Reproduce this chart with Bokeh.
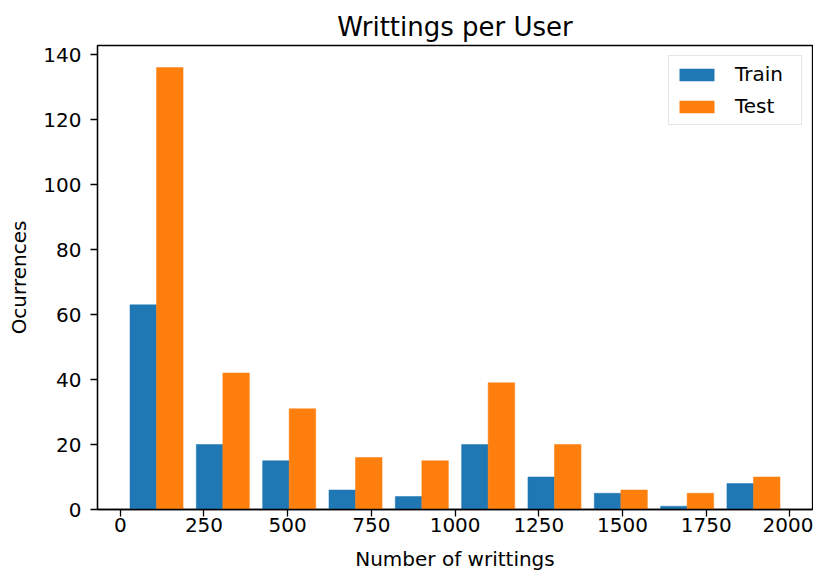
import numpy as np
from bokeh.plotting import figure
from bokeh.models import Range1d, FixedTicker, Legend, LegendItem, ColumnDataSource
from bokeh.embed import file_html
from bokeh.resources import INLINE

# --- data ---
bin_lo = 9.3
bin_hi = 1990.0
n_bins = 10
train_counts = [63, 20, 15, 6, 4, 20, 10, 5, 1, 8]
test_counts = [136, 42, 31, 16, 15, 39, 20, 6, 5, 10]
series_names = ["Train", "Test"]
series_colors = ["#1f77b4", "#ff7f0e"]
x_ticks = [0, 250, 500, 750, 1000, 1250, 1500, 1750, 2000]
y_ticks = [0, 20, 40, 60, 80, 100, 120, 140]

FONT = "DejaVu Sans"

w = (bin_hi - bin_lo) / n_bins
edges = np.array([bin_lo + i * w for i in range(n_bins)])

# matplotlib-style grouped histogram bars (80% of bin, split in two)
train_src = ColumnDataSource(dict(left=edges + 0.1 * w, right=edges + 0.5 * w,
                                  top=train_counts, bottom=[0] * n_bins))
test_src = ColumnDataSource(dict(left=edges + 0.5 * w, right=edges + 0.9 * w,
                                 top=test_counts, bottom=[0] * n_bins))

xmin = edges[0] + 0.1 * w
xmax = edges[-1] + 0.9 * w
xm = 0.05 * (xmax - xmin)
ymax = max(max(train_counts), max(test_counts)) * 1.05

p = figure(width=813, height=573, output_backend="svg", toolbar_location=None,
           x_range=Range1d(xmin - xm, xmax + xm), y_range=Range1d(0, ymax),
           min_border_left=97, min_border_right=1, min_border_top=45, min_border_bottom=64,
           title="Writtings per User")

r1 = p.quad(left="left", right="right", top="top", bottom="bottom", source=train_src,
            fill_color=series_colors[0], line_color=series_colors[0], line_width=0.5)
r2 = p.quad(left="left", right="right", top="top", bottom="bottom", source=test_src,
            fill_color=series_colors[1], line_color=series_colors[1], line_width=0.5)

p.title.text_font = FONT
p.title.text_font_size = "26px"
p.title.text_font_style = "normal"
p.title.align = "center"
p.title.text_color = "black"
p.title.standoff = 7

p.grid.visible = False
p.outline_line_color = "black"
p.outline_line_width = 1.3
p.background_fill_color = "white"
p.border_fill_color = "white"

for ax in (p.xaxis[0], p.yaxis[0]):
    ax.major_label_text_font = FONT
    ax.major_label_text_font_size = "20px"
    ax.major_label_text_color = "black"
    ax.axis_label_text_font = FONT
    ax.axis_label_text_font_size = "20px"
    ax.axis_label_text_font_style = "normal"
    ax.axis_label_text_color = "black"
    ax.major_tick_in = 0
    ax.major_tick_out = 7
    ax.minor_tick_in = 0
    ax.minor_tick_out = 0
    ax.axis_line_color = "black"
    ax.axis_line_width = 1.3
    ax.major_tick_line_width = 1.3

p.xaxis.ticker = FixedTicker(ticks=x_ticks)
p.yaxis.ticker = FixedTicker(ticks=y_ticks)
p.xaxis.axis_label = "Number of writtings"
p.yaxis.axis_label = "Ocurrences"
p.xaxis.major_label_standoff = 1
p.xaxis.axis_label_standoff = 12
p.yaxis.major_label_standoff = 9
p.yaxis.axis_label_standoff = 9

legend = Legend(items=[LegendItem(label=series_names[0], renderers=[r1]),
                       LegendItem(label=series_names[1], renderers=[r2])],
                location="top_right")
legend.label_text_font = FONT
legend.label_text_font_size = "20px"
legend.label_text_color = "black"
legend.glyph_width = 43
legend.glyph_height = 15
legend.label_height = 20
legend.label_width = 60
legend.label_standoff = 17
legend.spacing = 8
legend.padding = 6
legend.margin = 10
legend.border_line_color = "#cccccc"
legend.border_line_width = 1.3
legend.background_fill_alpha = 0.8
p.add_layout(legend)

open("out.html", "w").write(file_html(p, INLINE))
